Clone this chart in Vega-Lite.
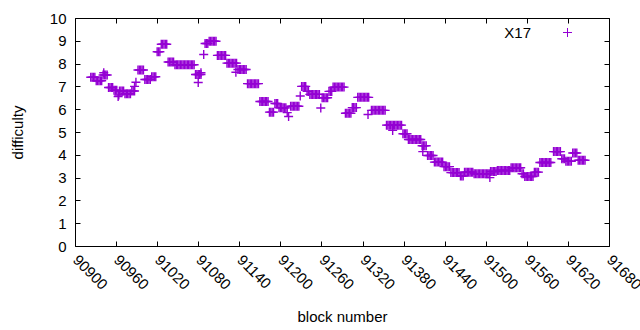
{
  "$schema": "https://vega.github.io/schema/vega-lite/v6.json",
  "width": 534,
  "height": 228,
  "autosize": {"type": "none"},
  "padding": {"left": 75, "top": 18, "right": 31, "bottom": 84},
  "background": "white",
  "config": {
    "view": {"stroke": "black", "strokeWidth": 1},
    "font": "Liberation Sans",
    "axis": {"grid": false, "domain": false, "tickColor": "black", "tickSize": -5, "labelColor": "black", "titleColor": "black", "labelFontSize": 15, "titleFontSize": 15, "titleFontWeight": "normal", "labelFont": "Liberation Sans", "titleFont": "Liberation Sans"}
  },
  "data": {"values": [
    {"b":90923,"d":7.4},{"b":90925,"d":7.4},{"b":90927,"d":7.4},{"b":90929,"d":7.4},
    {"b":90931,"d":7.25},{"b":90933,"d":7.25},{"b":90935,"d":7.25},{"b":90937,"d":7.25},{"b":90939,"d":7.25},
    {"b":90941,"d":7.5},{"b":90943,"d":7.5},{"b":90945,"d":7.5},{"b":90947,"d":7.5},{"b":90942,"d":7.6},
    {"b":90949,"d":6.95},{"b":90951,"d":6.95},{"b":90953,"d":6.95},{"b":90955,"d":6.95},
    {"b":90957,"d":6.83},{"b":90959,"d":6.83},{"b":90961,"d":6.83},
    {"b":90963,"d":6.56},{"b":90964,"d":6.62},
    {"b":90965,"d":6.8},{"b":90967,"d":6.8},{"b":90969,"d":6.8},{"b":90971,"d":6.8},
    {"b":90973,"d":6.68},{"b":90975,"d":6.68},{"b":90977,"d":6.68},{"b":90979,"d":6.68},{"b":90981,"d":6.68},
    {"b":90983,"d":6.8},{"b":90985,"d":6.8},{"b":90987,"d":6.8},{"b":90987,"d":7.0},{"b":90989,"d":7.18},
    {"b":90992,"d":7.72},{"b":90994,"d":7.72},{"b":90996,"d":7.72},{"b":90998,"d":7.72},{"b":91000,"d":7.72},
    {"b":91002,"d":7.3},{"b":91004,"d":7.3},{"b":91006,"d":7.3},{"b":91008,"d":7.3},{"b":91010,"d":7.3},
    {"b":91012,"d":7.42},{"b":91014,"d":7.42},{"b":91016,"d":7.42},{"b":91018,"d":7.42},
    {"b":91020,"d":8.52},{"b":91022,"d":8.52},{"b":91024,"d":8.52},
    {"b":91026,"d":8.85},{"b":91028,"d":8.85},{"b":91030,"d":8.85},{"b":91032,"d":8.85},{"b":91034,"d":8.85},
    {"b":91036,"d":8.07},{"b":91038,"d":8.07},{"b":91040,"d":8.07},{"b":91042,"d":8.07},{"b":91044,"d":8.07},
    {"b":91046,"d":7.95},{"b":91048,"d":7.95},{"b":91050,"d":7.95},{"b":91052,"d":7.95},{"b":91054,"d":7.95},{"b":91056,"d":7.95},{"b":91058,"d":7.95},{"b":91060,"d":7.95},{"b":91062,"d":7.95},{"b":91064,"d":7.95},{"b":91066,"d":7.95},{"b":91068,"d":7.95},{"b":91070,"d":7.95},{"b":91072,"d":7.95},{"b":91074,"d":7.95},
    {"b":91076,"d":7.52},{"b":91078,"d":7.52},{"b":91080,"d":7.52},{"b":91082,"d":7.52},{"b":91084,"d":7.52},{"b":91084,"d":7.6},
    {"b":91080,"d":7.17},{"b":91088,"d":8.4},
    {"b":91090,"d":8.88},{"b":91092,"d":8.88},{"b":91094,"d":8.88},
    {"b":91096,"d":8.98},{"b":91098,"d":8.98},{"b":91100,"d":8.98},{"b":91102,"d":8.98},{"b":91104,"d":8.98},{"b":91106,"d":8.98},
    {"b":91108,"d":8.36},{"b":91110,"d":8.36},{"b":91112,"d":8.36},{"b":91114,"d":8.36},{"b":91116,"d":8.36},{"b":91118,"d":8.36},{"b":91120,"d":8.36},
    {"b":91122,"d":8.02},{"b":91124,"d":8.02},{"b":91126,"d":8.02},{"b":91128,"d":8.02},{"b":91130,"d":8.02},{"b":91132,"d":8.02},{"b":91134,"d":8.02},{"b":91136,"d":8.02},
    {"b":91135,"d":7.62},
    {"b":91138,"d":7.74},{"b":91140,"d":7.74},{"b":91142,"d":7.74},{"b":91144,"d":7.74},{"b":91146,"d":7.74},{"b":91148,"d":7.74},{"b":91150,"d":7.74},
    {"b":91152,"d":7.12},{"b":91154,"d":7.12},{"b":91156,"d":7.12},{"b":91158,"d":7.12},{"b":91160,"d":7.12},{"b":91162,"d":7.12},{"b":91164,"d":7.12},{"b":91166,"d":7.12},{"b":91168,"d":7.12},
    {"b":91170,"d":6.34},{"b":91172,"d":6.34},{"b":91174,"d":6.34},{"b":91176,"d":6.34},{"b":91178,"d":6.34},{"b":91180,"d":6.34},{"b":91182,"d":6.34},
    {"b":91184,"d":5.87},{"b":91186,"d":5.87},{"b":91188,"d":5.87},{"b":91190,"d":5.87},
    {"b":91192,"d":6.25},{"b":91194,"d":6.25},{"b":91196,"d":6.25},
    {"b":91198,"d":6.06},{"b":91200,"d":6.06},{"b":91202,"d":6.06},{"b":91204,"d":6.06},{"b":91206,"d":6.06},{"b":91208,"d":6.06},
    {"b":91210,"d":5.85},{"b":91212,"d":5.68},
    {"b":91215,"d":6.13},{"b":91217,"d":6.13},{"b":91219,"d":6.13},{"b":91221,"d":6.13},{"b":91223,"d":6.13},{"b":91225,"d":6.13},{"b":91227,"d":6.13},
    {"b":91229,"d":6.58},
    {"b":91231,"d":7.0},{"b":91233,"d":7.0},{"b":91235,"d":7.0},{"b":91237,"d":7.0},
    {"b":91239,"d":6.78},{"b":91241,"d":6.78},
    {"b":91243,"d":6.65},{"b":91245,"d":6.65},{"b":91247,"d":6.65},{"b":91249,"d":6.65},{"b":91251,"d":6.65},{"b":91253,"d":6.65},{"b":91255,"d":6.65},{"b":91257,"d":6.65},
    {"b":91259,"d":6.05},
    {"b":91261,"d":6.5},{"b":91263,"d":6.5},{"b":91265,"d":6.5},{"b":91267,"d":6.5},{"b":91269,"d":6.5},
    {"b":91271,"d":6.78},{"b":91273,"d":6.78},{"b":91275,"d":6.78},
    {"b":91277,"d":6.97},{"b":91279,"d":6.97},{"b":91281,"d":6.97},{"b":91283,"d":6.97},{"b":91285,"d":6.97},{"b":91287,"d":6.97},{"b":91289,"d":6.97},{"b":91291,"d":6.97},{"b":91293,"d":6.97},
    {"b":91295,"d":5.82},{"b":91297,"d":5.82},{"b":91299,"d":5.82},{"b":91301,"d":5.82},{"b":91303,"d":5.82},
    {"b":91305,"d":6.07},{"b":91307,"d":6.07},{"b":91309,"d":6.07},{"b":91311,"d":6.07},
    {"b":91313,"d":6.52},{"b":91315,"d":6.52},{"b":91317,"d":6.52},{"b":91319,"d":6.52},{"b":91321,"d":6.52},{"b":91323,"d":6.52},{"b":91325,"d":6.52},{"b":91327,"d":6.52},{"b":91329,"d":6.52},
    {"b":91328,"d":5.77},
    {"b":91333,"d":5.95},{"b":91335,"d":5.95},{"b":91337,"d":5.95},{"b":91339,"d":5.95},{"b":91341,"d":5.95},{"b":91343,"d":5.95},{"b":91345,"d":5.95},{"b":91347,"d":5.95},{"b":91349,"d":5.95},{"b":91351,"d":5.95},{"b":91353,"d":5.95},
    {"b":91355,"d":5.3},{"b":91357,"d":5.3},{"b":91359,"d":5.3},{"b":91361,"d":5.3},{"b":91363,"d":5.3},{"b":91365,"d":5.3},{"b":91367,"d":5.3},{"b":91369,"d":5.3},{"b":91371,"d":5.3},{"b":91373,"d":5.3},{"b":91375,"d":5.3},{"b":91377,"d":5.3},
    {"b":91364,"d":5.07},
    {"b":91379,"d":4.92},{"b":91381,"d":4.92},{"b":91383,"d":4.92},{"b":91385,"d":4.92},
    {"b":91387,"d":4.67},{"b":91389,"d":4.67},{"b":91391,"d":4.67},{"b":91393,"d":4.67},{"b":91395,"d":4.67},{"b":91397,"d":4.67},{"b":91399,"d":4.67},{"b":91401,"d":4.67},{"b":91403,"d":4.67},{"b":91405,"d":4.67},
    {"b":91407,"d":4.4},{"b":91409,"d":4.4},{"b":91411,"d":4.4},{"b":91413,"d":4.4},{"b":91408,"d":4.14},
    {"b":91415,"d":3.97},{"b":91417,"d":3.97},{"b":91419,"d":3.97},{"b":91421,"d":3.97},{"b":91423,"d":3.97},
    {"b":91425,"d":3.68},{"b":91427,"d":3.68},{"b":91429,"d":3.68},{"b":91431,"d":3.68},{"b":91433,"d":3.68},{"b":91435,"d":3.68},{"b":91437,"d":3.68},
    {"b":91439,"d":3.48},{"b":91441,"d":3.48},{"b":91443,"d":3.48},{"b":91445,"d":3.48},{"b":91447,"d":3.48},
    {"b":91449,"d":3.22},{"b":91451,"d":3.22},{"b":91453,"d":3.22},{"b":91455,"d":3.22},{"b":91457,"d":3.22},{"b":91459,"d":3.22},{"b":91461,"d":3.22},
    {"b":91463,"d":3.07},{"b":91465,"d":3.07},{"b":91467,"d":3.07},
    {"b":91469,"d":3.24},{"b":91471,"d":3.24},{"b":91473,"d":3.24},{"b":91475,"d":3.24},{"b":91477,"d":3.24},{"b":91479,"d":3.24},{"b":91481,"d":3.24},
    {"b":91483,"d":3.17},{"b":91485,"d":3.17},{"b":91487,"d":3.17},{"b":91489,"d":3.17},{"b":91491,"d":3.17},{"b":91493,"d":3.17},{"b":91495,"d":3.17},{"b":91497,"d":3.17},{"b":91499,"d":3.17},{"b":91501,"d":3.17},{"b":91503,"d":3.17},{"b":91505,"d":3.17},
    {"b":91506,"d":3.0},
    {"b":91507,"d":3.27},{"b":91509,"d":3.27},{"b":91511,"d":3.27},{"b":91513,"d":3.27},{"b":91515,"d":3.27},
    {"b":91517,"d":3.31},{"b":91519,"d":3.31},{"b":91521,"d":3.31},{"b":91523,"d":3.31},{"b":91525,"d":3.31},{"b":91527,"d":3.31},{"b":91529,"d":3.31},{"b":91531,"d":3.31},{"b":91533,"d":3.31},{"b":91535,"d":3.31},
    {"b":91537,"d":3.43},{"b":91539,"d":3.43},{"b":91541,"d":3.43},{"b":91543,"d":3.43},{"b":91545,"d":3.43},{"b":91547,"d":3.43},{"b":91549,"d":3.43},{"b":91551,"d":3.43},
    {"b":91553,"d":3.17},{"b":91555,"d":3.17},
    {"b":91557,"d":3.05},{"b":91559,"d":3.05},{"b":91561,"d":3.05},{"b":91563,"d":3.05},{"b":91565,"d":3.05},{"b":91567,"d":3.05},{"b":91569,"d":3.05},
    {"b":91571,"d":3.24},{"b":91573,"d":3.24},{"b":91575,"d":3.24},{"b":91577,"d":3.24},
    {"b":91579,"d":3.66},{"b":91581,"d":3.66},{"b":91583,"d":3.66},{"b":91585,"d":3.66},{"b":91587,"d":3.66},{"b":91589,"d":3.66},{"b":91591,"d":3.66},{"b":91593,"d":3.66},{"b":91595,"d":3.66},
    {"b":91599,"d":4.14},{"b":91601,"d":4.14},{"b":91603,"d":4.14},{"b":91605,"d":4.14},{"b":91607,"d":4.14},{"b":91609,"d":4.14},
    {"b":91611,"d":3.83},{"b":91613,"d":3.83},{"b":91615,"d":3.83},
    {"b":91617,"d":3.72},{"b":91619,"d":3.72},{"b":91621,"d":3.72},{"b":91623,"d":3.72},{"b":91625,"d":3.72},
    {"b":91627,"d":4.08},{"b":91629,"d":4.08},{"b":91631,"d":4.08},{"b":91633,"d":4.08},
    {"b":91635,"d":3.76},{"b":91637,"d":3.76},{"b":91639,"d":3.76},{"b":91641,"d":3.76},{"b":91643,"d":3.76},{"b":91645,"d":3.76}
  ]},
  "layer": [
    {
      "mark": {"type": "point", "shape": "M-1,0H1M0,-1V1", "size": 81, "filled": false, "strokeWidth": 1.4, "opacity": 1},
      "encoding": {
        "x": {"field": "b", "type": "quantitative", "scale": {"domain": [90900, 91680], "nice": false, "zero": false},
          "axis": {"orient": "bottom", "title": "block number", "values": [90900,90960,91020,91080,91140,91200,91260,91320,91380,91440,91500,91560,91620,91680], "format": "d", "labelAngle": 45, "labelAlign": "left", "labelBaseline": "middle", "labelPadding": 16, "titlePadding": 17}},
        "y": {"field": "d", "type": "quantitative", "scale": {"domain": [0, 10], "nice": false, "zero": true},
          "axis": {"orient": "left", "title": "difficulty", "values": [0,1,2,3,4,5,6,7,8,9,10], "labelPadding": 14, "titlePadding": 24}},
        "color": {"datum": "X17", "type": "nominal", "scale": {"range": ["#9400d3"]},
          "legend": {"orient": "none", "legendX": 485, "legendY": 7, "title": null, "padding": 0, "symbolType": "M-1,0H1M0,-1V1", "symbolSize": 81, "symbolStrokeWidth": 1, "symbolFillColor": "transparent", "symbolStrokeColor": "#9400d3", "labelFontSize": 15, "labelFont": "Liberation Sans", "labelColor": "black", "labelAlign": "right", "labelOffset": -44}}
      }
    },
    {
      "mark": {"type": "point", "opacity": 0},
      "encoding": {
        "x": {"field": "b", "type": "quantitative", "axis": {"orient": "top", "title": null, "labels": false, "values": [90900,90960,91020,91080,91140,91200,91260,91320,91380,91440,91500,91560,91620,91680]}},
        "y": {"field": "d", "type": "quantitative", "axis": {"orient": "right", "title": null, "labels": false, "values": [0,1,2,3,4,5,6,7,8,9,10]}}
      }
    }
  ],
  "resolve": {"axis": {"x": "independent", "y": "independent"}}
}
